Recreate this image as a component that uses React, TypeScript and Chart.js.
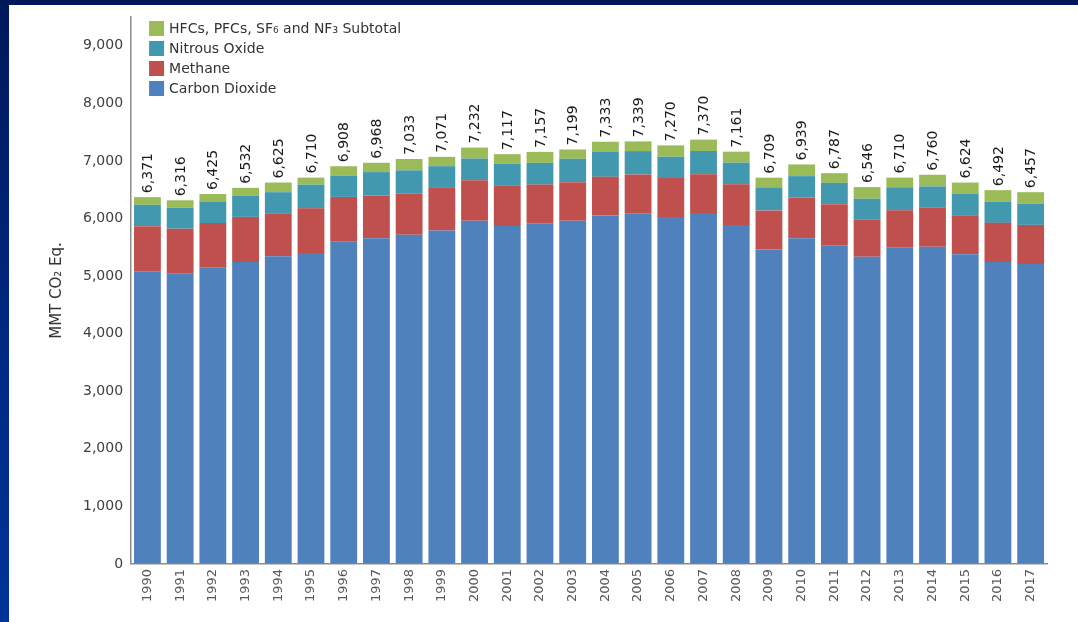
import React, { useEffect, useRef } from 'react';
import { Chart, registerables } from 'chart.js';

Chart.register(...registerables);

const years = ['1990', '1991', '1992', '1993', '1994', '1995', '1996', '1997', '1998', '1999', '2000', '2001', '2002', '2003', '2004', '2005', '2006', '2007', '2008', '2009', '2010', '2011', '2012', '2013', '2014', '2015', '2016', '2017'];

const carbonDioxide = [5084, 5040, 5143, 5245, 5344, 5399, 5598, 5658, 5717, 5790, 5963, 5871, 5917, 5959, 6052, 6093, 6024, 6095, 5886, 5463, 5658, 5535, 5335, 5493, 5508, 5378, 5246, 5211];
const methane = [783, 783, 777, 783, 748, 777, 777, 742, 713, 742, 701, 707, 672, 672, 672, 672, 678, 672, 707, 678, 707, 713, 643, 649, 678, 678, 678, 678];
const nitrousOxide = [371, 365, 377, 371, 365, 412, 371, 406, 406, 377, 377, 371, 377, 406, 441, 406, 371, 406, 377, 400, 371, 371, 365, 400, 371, 371, 365, 365];
const fluorinated = [133, 128, 128, 133, 168, 122, 162, 162, 197, 162, 191, 168, 191, 162, 168, 168, 197, 197, 191, 168, 203, 168, 203, 168, 203, 197, 203, 203];

const totalLabels = ['6,371', '6,316', '6,425', '6,532', '6,625', '6,710', '6,908', '6,968', '7,033', '7,071', '7,232', '7,117', '7,157', '7,199', '7,333', '7,339', '7,270', '7,370', '7,161', '6,709', '6,939', '6,787', '6,546', '6,710', '6,760', '6,624', '6,492', '6,457'];

const yTickValues = [0, 1000, 2000, 3000, 4000, 5000, 6000, 7000, 8000, 9000];

const seriesNames = ['Carbon Dioxide', 'Methane', 'Nitrous Oxide', 'HFCs, PFCs, SF\u2086 and NF\u2083 Subtotal'];
const seriesColors = ['#4f81bd', '#c0504d', '#4198af', '#9bbb59'];

const FONT = '"DejaVu Sans", Verdana, sans-serif';

const totalsPlugin = {
  id: 'totals',
  afterDatasetsDraw(chart: any) {
    const ctx = chart.ctx;
    const meta = chart.getDatasetMeta(chart.data.datasets.length - 1);
    ctx.save();
    ctx.font = `14px ${FONT}`;
    ctx.fillStyle = '#1a1a1a';
    ctx.textAlign = 'left';
    ctx.textBaseline = 'middle';
    meta.data.forEach((el: any, i: number) => {
      const { x, y } = el.getProps(['x', 'y'], true);
      ctx.save();
      ctx.translate(x + 1, y - 4);
      ctx.rotate(-Math.PI / 2);
      ctx.fillText(totalLabels[i], 0, 0);
      ctx.restore();
    });
    ctx.restore();
  },
};

const legendPlugin = {
  id: 'insideLegend',
  afterDraw(chart: any) {
    const ctx = chart.ctx;
    const area = chart.chartArea;
    const ds = chart.data.datasets;
    ctx.save();
    ctx.font = `14px ${FONT}`;
    ctx.textAlign = 'left';
    ctx.textBaseline = 'middle';
    const order = [3, 2, 1, 0];
    order.forEach((di, row) => {
      const bx = area.left + 18;
      const by = area.top + 4 + row * 20;
      ctx.fillStyle = ds[di].backgroundColor;
      ctx.fillRect(bx, by, 15, 15);
      ctx.fillStyle = '#333333';
      ctx.fillText(ds[di].label, bx + 20, by + 8);
    });
    ctx.restore();
  },
};

export default function App() {
  const ref = useRef<HTMLCanvasElement | null>(null);

  useEffect(() => {
    if (!ref.current) return;
    const seriesData = [carbonDioxide, methane, nitrousOxide, fluorinated];
    const chart = new Chart(ref.current, {
      type: 'bar',
      data: {
        labels: years,
        datasets: seriesData.map((d, i) => ({
          label: seriesNames[i],
          data: d,
          backgroundColor: seriesColors[i],
          borderWidth: 0,
          categoryPercentage: 1,
          barPercentage: 0.82,
        })),
      },
      options: {
        responsive: false,
        animation: false,
        layout: { padding: { left: 35, right: 31, top: 12, bottom: 15 } },
        plugins: {
          legend: { display: false },
          tooltip: { enabled: false },
        },
        scales: {
          x: {
            stacked: true,
            grid: { display: true, drawOnChartArea: false, drawTicks: false },
            border: { display: true, color: '#8c8c8c', width: 1.5 },
            ticks: {
              minRotation: 90,
              maxRotation: 90,
              autoSkip: false,
              padding: 5,
              color: '#595959',
              font: { family: FONT, size: 13 },
            },
          },
          y: {
            stacked: true,
            min: 0,
            max: 9500,
            afterBuildTicks: (scale: any) => {
              scale.ticks = yTickValues.map((v) => ({ value: v }));
            },
            grid: { display: true, drawOnChartArea: false, drawTicks: false },
            border: { display: true, color: '#8c8c8c', width: 1.5 },
            ticks: {
              padding: 8,
              color: '#404040',
              font: { family: FONT, size: 14, lineHeight: 0.2 },
              callback: (v: any) => Number(v).toLocaleString('en-US'),
            },
            title: {
              display: true,
              text: 'MMT CO\u2082 Eq.',
              color: '#333333',
              font: { family: FONT, size: 15 },
              padding: { top: 4, bottom: 9 },
            },
          },
        },
      },
      plugins: [totalsPlugin, legendPlugin],
    });
    return () => chart.destroy();
  }, []);

  return (
    <div
      style={{
        position: 'fixed',
        inset: 0,
        background: 'linear-gradient(to bottom, #00185a 0%, #002a85 60%, #003399 100%)',
      }}
    >
      <div style={{ position: 'absolute', left: 9, top: 5, right: 0, bottom: 0, background: '#ffffff' }}>
        <canvas ref={ref} width={1069} height={617} style={{ display: 'block' }} />
      </div>
    </div>
  );
}
